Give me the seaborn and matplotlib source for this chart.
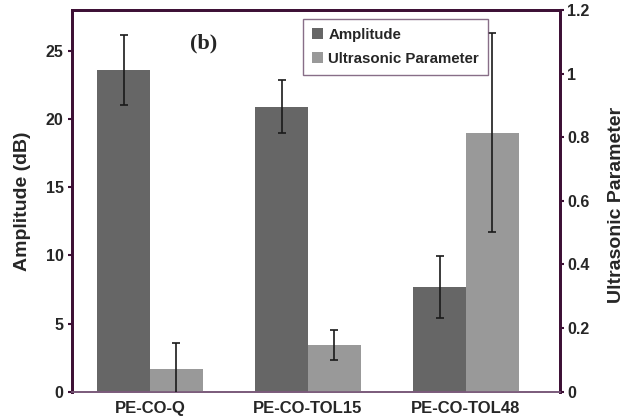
import matplotlib
matplotlib.use("Agg")
import matplotlib.pyplot as plt
import seaborn as sns
import pandas as pd
import numpy as np
from matplotlib.patches import Patch

categories = ["PE-CO-Q", "PE-CO-TOL15", "PE-CO-TOL48"]
amplitude = [23.6, 20.9, 7.7]
amplitude_err = [2.6, 1.95, 2.27]
ultrasonic = [0.071, 0.148, 0.814]
ultrasonic_err = [0.083, 0.047, 0.313]
series = ["Amplitude", "Ultrasonic Parameter"]
left_ticks = [0, 5, 10, 15, 20, 25]
right_ticks = [0, 0.2, 0.4, 0.6, 0.8, 1.0, 1.2]
right_tick_labels = ["0", "0.2", "0.4", "0.6", "0.8", "1", "1.2"]

sns.set_style("white")
plt.rcParams["font.family"] = ["Liberation Sans", "DejaVu Sans"]
plt.rcParams["font.weight"] = "bold"

colors = {"Amplitude": "#666666", "Ultrasonic Parameter": "#999999"}
spine_col = "#3d1035"

df_amp = pd.DataFrame({"cat": categories, "series": "Amplitude", "val": amplitude})
df_ult = pd.DataFrame({"cat": categories, "series": "Ultrasonic Parameter", "val": ultrasonic})

fig = plt.figure(figsize=(6.24, 4.19), dpi=100)
ax = fig.add_axes([72 / 624, 1 - 391.7 / 419, 488 / 624, 381.7 / 419])
ax2 = ax.twinx()

sns.barplot(data=df_amp, x="cat", y="val", hue="series", hue_order=series,
            order=categories, palette=colors, width=0.667, linewidth=0,
            dodge=True, ax=ax, legend=False)
sns.barplot(data=df_ult, x="cat", y="val", hue="series", hue_order=series,
            order=categories, palette=colors, width=0.667, linewidth=0,
            dodge=True, ax=ax2, legend=False)

# error bars at bar centers
for a, vals, errs in [(ax, amplitude, amplitude_err), (ax2, ultrasonic, ultrasonic_err)]:
    bars = sorted([p for p in a.patches], key=lambda p: p.get_x())
    xs = [p.get_x() + p.get_width() / 2 for p in bars]
    a.errorbar(xs, vals, yerr=errs, fmt="none", ecolor="#1a1a1a",
               elinewidth=1.2, capsize=3.2, capthick=1.2, zorder=5)

ax.set_xlim(-0.494, 2.595)
ax.set_ylim(0, 28)
ax2.set_ylim(0, 1.2)
ax.set_yticks(left_ticks)
ax.set_yticklabels([str(t) for t in left_ticks])
ax2.set_yticks(right_ticks)
ax2.set_yticklabels(right_tick_labels)

ax.set_xticks(range(len(categories)))
ax.set_xticklabels(categories, fontsize=12, fontweight="bold")
ax.set_xticks([0.5, 1.5, 2.5], minor=True)
ax.tick_params(axis="x", which="major", length=0, pad=7)
ax.tick_params(axis="x", which="minor", length=3, color="#cccccc", direction="out")
ax.tick_params(axis="y", length=3, width=1.5, color=spine_col, labelsize=11.5, pad=3, left=True)
ax2.tick_params(axis="y", length=3, width=1.5, color=spine_col, labelsize=11.5, pad=2, right=True)
for lab in ax.get_yticklabels() + ax2.get_yticklabels():
    lab.set_fontweight("bold")

ax.set_xlabel("")
ax.set_ylabel("Amplitude (dB)", fontsize=14, fontweight="bold")
ax.yaxis.set_label_coords(-0.084, 0.5)
ax2.set_ylabel("Ultrasonic Parameter", fontsize=14, fontweight="bold", rotation=90)
ax2.yaxis.set_label_coords(1.099, 0.49)

for a in (ax, ax2):
    for s in ["left", "right", "top"]:
        a.spines[s].set_color(spine_col)
        a.spines[s].set_linewidth(2)
        a.spines[s].set_visible(True)
    a.spines["bottom"].set_color("#7a5a7a")
    a.spines["bottom"].set_linewidth(1.2)

ax.text(0.27, 0.911, "(b)", transform=ax.transAxes, ha="center", va="center",
        fontsize=16, fontweight="bold", family=["Liberation Serif", "DejaVu Serif"])

handles = [Patch(facecolor=colors[s], edgecolor="none", label=s) for s in series]
leg = ax2.legend(handles=handles, loc="upper left", bbox_to_anchor=(0.473, 0.976),
                 frameon=True, fancybox=False, fontsize=10.8, handlelength=0.75,
                 handleheight=0.75, handletextpad=0.35, borderpad=0.6,
                 labelspacing=0.65, borderaxespad=0)
leg.get_frame().set_edgecolor("#6b4a6b")
leg.get_frame().set_linewidth(1.0)
for t in leg.get_texts():
    t.set_fontweight("bold")

fig.savefig("out.png", dpi=100)
